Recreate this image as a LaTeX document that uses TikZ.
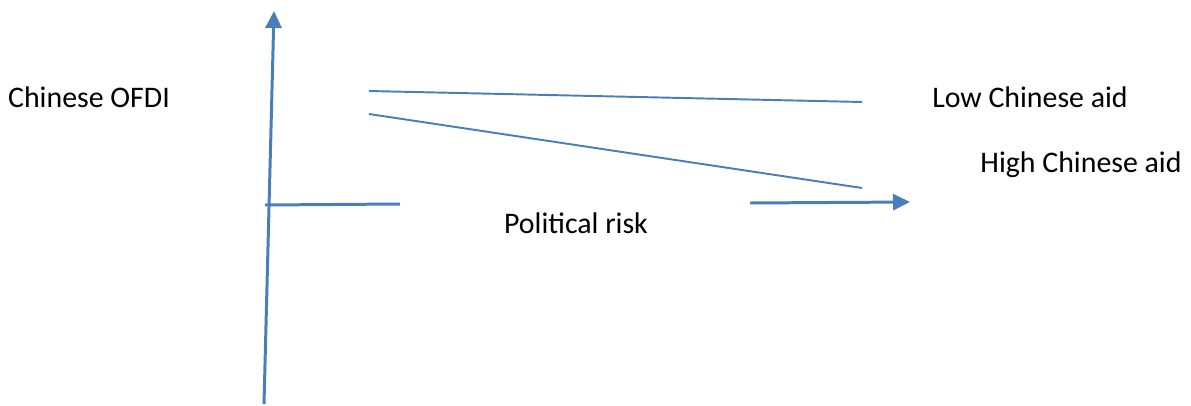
\documentclass[tikz,border=0pt]{standalone}
\usepackage{fontspec}
\setmainfont{Carlito}
\usepackage{tikz}
\usetikzlibrary{arrows.meta, positioning}
\definecolor{lineblue}{RGB}{74,126,187}

\begin{document}
\begin{tikzpicture}[x=0.02cm,y=-0.02cm,
                    axis/.style={draw=lineblue,line width=1.7pt},
                    curve/.style={draw=lineblue,line width=1.1pt},
                    tip/.style={-{Triangle[length=0.34cm,width=0.32cm]}},
                    lbl node/.style={font=\fontsize{17}{20}\selectfont,inner sep=0pt,anchor=base}]
 \useasboundingbox (0,0) rectangle (1191,406);

 % axes
 \coordinate (YBottom) at (264,404);
 \coordinate (YTop) at (274,11);
 \coordinate (XLeft) at (265,205);
 \coordinate (XLeftEnd) at (400,204);
 \coordinate (XRightStart) at (750,203);
 \coordinate (XRight) at (910,202);

 \draw[axis,tip] (YBottom)--(YTop);
 \draw[axis] (XLeft)--(XLeftEnd);
 \draw[axis,tip] (XRightStart)--(XRight);

 % the two lines
 \coordinate (LowStart) at (369,91);
 \coordinate (LowEnd) at (862,102);
 \coordinate (HighStart) at (369,114);
 \coordinate (HighEnd) at (862,188);

 \draw[curve] (LowStart)--(LowEnd);
 \draw[curve] (HighStart)--(HighEnd);

 % labels
 \node[lbl node] (OFDILabel) at (89,107) {Chinese OFDI};
 \node[lbl node] (LowLabel) at (1030,107) {Low Chinese aid};
 \node[lbl node] (HighLabel) at (1081,172) {High Chinese aid};
 \node[lbl node] (RiskLabel) at (576,233) {Political risk};

\end{tikzpicture}
\end{document}
